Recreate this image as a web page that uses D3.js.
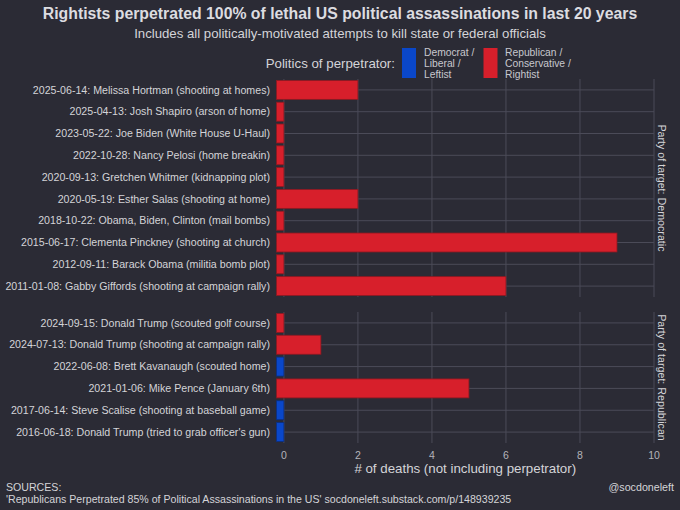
<!DOCTYPE html>
<html><head><meta charset="utf-8">
<script src="https://cdn.jsdelivr.net/npm/d3@7"></script>
<style>
html,body{margin:0;padding:0;background:#2b2b35;}
svg{display:block;font-family:"Liberation Sans",Arial,sans-serif;}
</style></head>
<body>
<svg id="c" width="680" height="510"></svg>
<script>
// Data
const demLabels = [
 "2025-06-14: Melissa Hortman (shooting at homes)",
 "2025-04-13: Josh Shapiro (arson of home)",
 "2023-05-22: Joe Biden (White House U-Haul)",
 "2022-10-28: Nancy Pelosi (home breakin)",
 "2020-09-13: Gretchen Whitmer (kidnapping plot)",
 "2020-05-19: Esther Salas (shooting at home)",
 "2018-10-22: Obama, Biden, Clinton (mail bombs)",
 "2015-06-17: Clementa Pinckney (shooting at church)",
 "2012-09-11: Barack Obama (militia bomb plot)",
 "2011-01-08: Gabby Giffords (shooting at campaign rally)"
];
const demDeaths = [2,0,0,0,0,2,0,9,0,6];
const demParty  = ["R","R","R","R","R","R","R","R","R","R"];
const repLabels = [
 "2024-09-15: Donald Trump (scouted golf course)",
 "2024-07-13: Donald Trump (shooting at campaign rally)",
 "2022-06-08: Brett Kavanaugh (scouted home)",
 "2021-01-06: Mike Pence (January 6th)",
 "2017-06-14: Steve Scalise (shooting at baseball game)",
 "2016-06-18: Donald Trump (tried to grab officer's gun)"
];
const repDeaths = [0,1,0,5,0,0];
const repParty  = ["R","R","D","R","D","D"];
const xTicks = [0,2,4,6,8,10];
const panelNames = ["Party of target: Democratic","Party of target: Republican"];
const legendLabels = [["Democrat /","Liberal /","Leftist"],["Republican /","Conservative /","Rightist"]];

const colors = {D:"#0a47c9", R:"#d71f2b"};
const strokes = {D:"#0a2f80", R:"#8c1a22"};
const svg = d3.select("#c");
const bg="#2b2b35", grid="#4b4b58", txt="#d4d4d8";

svg.append("rect").attr("width",680).attr("height",510).attr("fill",bg);

const x = d3.scaleLinear().domain([-0.2,10]).range([276.5,654]);

svg.append("text").attr("x",340).attr("y",18.5).attr("text-anchor","middle")
  .attr("fill","#dcdce0").attr("font-size",15.8).attr("font-weight","bold")
  .text("Rightists perpetrated 100% of lethal US political assassinations in last 20 years");
svg.append("text").attr("x",340).attr("y",37.5).attr("text-anchor","middle")
  .attr("fill",txt).attr("font-size",13.2)
  .text("Includes all politically-motivated attempts to kill state or federal officials");

const panels = [
  {labels:demLabels, deaths:demDeaths, party:demParty, top:79, bottom:297, name:panelNames[0]},
  {labels:repLabels, deaths:repDeaths, party:repParty, top:312, bottom:443, name:panelNames[1]}
];

panels.forEach(p=>{
  const y = d3.scaleBand().domain(p.labels).range([p.top,p.bottom]).paddingInner(0.13).paddingOuter(0.065);
  const g = svg.append("g");
  g.selectAll("line.h").data(p.labels).join("line")
    .attr("x1",x.range()[0]).attr("x2",x.range()[1])
    .attr("y1",d=>y(d)+y.bandwidth()/2).attr("y2",d=>y(d)+y.bandwidth()/2)
    .attr("stroke",grid).attr("stroke-width",1);
  g.selectAll("line.v").data(xTicks).join("line")
    .attr("x1",d=>x(d)).attr("x2",d=>x(d)).attr("y1",p.top).attr("y2",p.bottom)
    .attr("stroke",grid).attr("stroke-width",1);
  g.selectAll("rect.bar").data(p.labels).join("rect")
    .attr("x",x(-0.2)).attr("y",d=>y(d))
    .attr("width",(d,i)=>x(p.deaths[i])-x(-0.2)).attr("height",y.bandwidth())
    .attr("fill",(d,i)=>colors[p.party[i]]).attr("stroke",(d,i)=>strokes[p.party[i]]).attr("stroke-width",0.8);
  g.selectAll("text.lab").data(p.labels).join("text")
    .attr("x",270).attr("y",d=>y(d)+y.bandwidth()/2).attr("dy","0.35em")
    .attr("text-anchor","end").attr("fill",txt).attr("font-size",10.65).text(d=>d);
  const cy=(p.top+p.bottom)/2;
  g.append("text").attr("transform",`translate(662,${cy}) rotate(90)`)
    .attr("text-anchor","middle").attr("dy","0.35em").attr("fill",txt).attr("font-size",10.7).text(p.name);
});

svg.selectAll("text.xt").data(xTicks).join("text")
  .attr("x",d=>x(d)).attr("y",459).attr("text-anchor","middle")
  .attr("fill","#b4b4ba").attr("font-size",10.5).text(d=>d);
svg.append("text").attr("x",(x.range()[0]+x.range()[1])/2).attr("y",473).attr("text-anchor","middle")
  .attr("fill",txt).attr("font-size",13.3).text("# of deaths (not including perpetrator)");

svg.append("text").attr("x",395).attr("y",63).attr("dy","0.35em").attr("text-anchor","end")
  .attr("fill",txt).attr("font-size",13.3).text("Politics of perpetrator:");
const lg = [{k:"D",x:402,tx:424},{k:"R",x:483.5,tx:505}];
lg.forEach((l,i)=>{
  svg.append("rect").attr("x",l.x).attr("y",48).attr("width",14).attr("height",30).attr("fill",colors[l.k]);
  legendLabels[i].forEach((t,j)=>{
    svg.append("text").attr("x",l.tx).attr("y",52+j*11).attr("dy","0.35em")
      .attr("fill","#c8c8ce").attr("font-size",10.3).text(t);
  });
});

svg.append("text").attr("x",6).attr("y",490.5).attr("fill",txt).attr("font-size",10.6).text("SOURCES:");
svg.append("text").attr("x",6).attr("y",502.5).attr("fill",txt).attr("font-size",10.6)
  .text("'Republicans Perpetrated 85% of Political Assassinations in the US' socdoneleft.substack.com/p/148939235");
svg.append("text").attr("x",674).attr("y",491).attr("text-anchor","end").attr("fill",txt).attr("font-size",10.7).text("@socdoneleft");
</script>
</body></html>
